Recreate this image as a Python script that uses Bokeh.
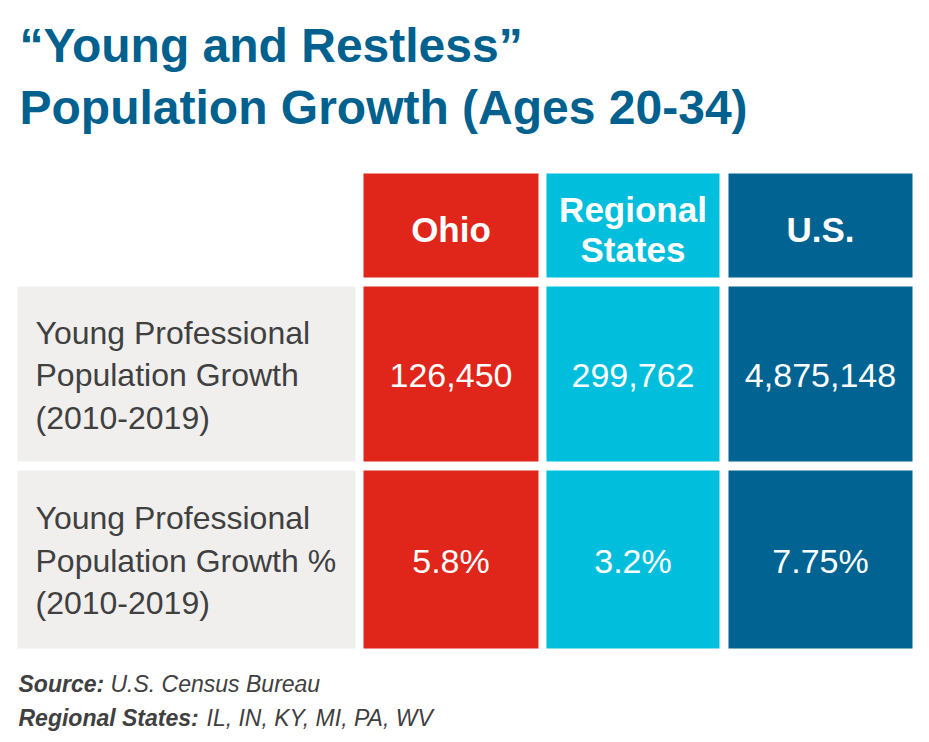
from bokeh.plotting import figure
from bokeh.models import Range1d
from bokeh.core.properties import value
from bokeh.embed import file_html
from bokeh.resources import INLINE

# ---- data ----
title_lines = ["\u201cYoung and Restless\u201d", "Population Growth (Ages 20-34)"]
columns = ["Ohio", "Regional States", "U.S."]
column_header_lines = [["Ohio"], ["Regional", "States"], ["U.S."]]
row_labels = [
    ["Young Professional", "Population Growth", "(2010-2019)"],
    ["Young Professional", "Population Growth %", "(2010-2019)"],
]
growth_counts = ["126,450", "299,762", "4,875,148"]
growth_pct = ["5.8%", "3.2%", "7.75%"]
source_label = "Source:"
source_text = "U.S. Census Bureau"
region_label = "Regional States:"
region_text = "IL, IN, KY, MI, PA, WV"

# ---- styles / layout ----
FONT = "Liberation Sans"
col_colors = ["#e0261b", "#00bedc", "#006391"]
title_color = "#00608e"
label_bg = "#f0efee"
text_gray = "#404040"

col_x = [(363, 538), (546, 719), (728, 912)]
label_x = (17, 355)
header_y = (173, 277)
row_y = [(286, 461), (470, 648)]

W, H = 913, 738
p = figure(width=W, height=H, output_backend="svg", toolbar_location=None,
           x_range=Range1d(0, W), y_range=Range1d(H, 0),
           min_border=0, outline_line_color=None, background_fill_color="white",
           border_fill_color="white")
p.axis.visible = False
p.grid.visible = False

# title
for i, line in enumerate(title_lines):
    p.text(x=[19], y=[45 + i * 62], text=[line], text_font=value(FONT),
           text_font_style="bold", text_font_size="48px", text_color=title_color,
           text_baseline="middle", text_align="left")

# header cells
for (x0, x1), c, lines in zip(col_x, col_colors, column_header_lines):
    p.quad(left=[x0], right=[x1], top=[header_y[0]], bottom=[header_y[1]],
           fill_color=c, line_color=None)
    cx = (x0 + x1) / 2
    ys = [229] if len(lines) == 1 else [209, 249]
    for ln, yy in zip(lines, ys):
        p.text(x=[cx], y=[yy], text=[ln], text_font=value(FONT), text_font_style="bold",
               text_font_size="35px", text_color="white", text_align="center",
               text_baseline="middle")

# body rows
row_values = [growth_counts, growth_pct]
for (y0, y1), labels, vals in zip(row_y, row_labels, row_values):
    p.quad(left=[label_x[0]], right=[label_x[1]], top=[y0], bottom=[y1],
           fill_color=label_bg, line_color=None)
    cy = (y0 + y1) / 2
    for j, ln in enumerate(labels):
        p.text(x=[35], y=[cy + (j - 1) * 42.5 + 1], text=[ln], text_font=value(FONT),
               text_font_size="32px", text_color=text_gray, text_align="left",
               text_baseline="middle")
    for (x0, x1), c, v in zip(col_x, col_colors, vals):
        p.quad(left=[x0], right=[x1], top=[y0], bottom=[y1], fill_color=c, line_color=None)
        p.text(x=[(x0 + x1) / 2], y=[cy + 1], text=[v], text_font=value(FONT),
               text_font_size="34px", text_color="white", text_align="center",
               text_baseline="middle")

# footnotes
FS = "23px"
p.text(x=[18], y=[683], text=[source_label], text_font=value(FONT),
       text_font_style="bold italic", text_font_size=FS, text_color=text_gray,
       text_baseline="middle")
p.text(x=[110], y=[683], text=[source_text], text_font=value(FONT),
       text_font_style="italic", text_font_size=FS, text_color=text_gray,
       text_baseline="middle")
p.text(x=[18], y=[717], text=[region_label], text_font=value(FONT),
       text_font_style="bold italic", text_font_size=FS, text_color=text_gray,
       text_baseline="middle")
p.text(x=[206], y=[717], text=[region_text], text_font=value(FONT),
       text_font_style="italic", text_font_size=FS, text_color=text_gray,
       text_baseline="middle")

open("out.html", "w").write(file_html(p, INLINE))
